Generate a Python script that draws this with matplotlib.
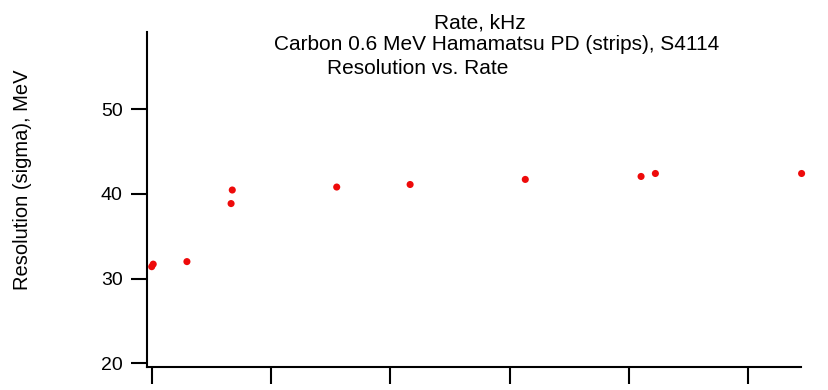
import matplotlib
matplotlib.use("Agg")
import matplotlib.pyplot as plt

plt.rcParams['font.family'] = ['Liberation Sans', 'DejaVu Sans']

rate_khz = [0.0, 0.25, 5.9, 13.3, 13.5, 31.0, 43.3, 62.6, 82.0, 84.4, 108.9]
resolution_mev = [31.4, 31.7, 32.0, 38.85, 40.45, 40.8, 41.1, 41.7, 42.05, 42.4, 42.4]
x_ticks = [0, 20, 40, 60, 80, 100]
y_ticks = [20, 30, 40, 50]

fig = plt.figure(figsize=(8.29, 3.9), dpi=100)
ax = fig.add_axes([146.7/829, 1-367/390, (801-146.7)/829, (367-32)/390])

ax.scatter(rate_khz, resolution_mev, s=26, color='#ee0a0a', edgecolors='none', zorder=3, clip_on=False)

ax.set_xlim(-0.84, 108.8)
ax.set_ylim(19.56, 59.1)
ax.set_xticks(x_ticks)
ax.set_xticklabels([])
ax.set_yticks(y_ticks)
ax.tick_params(axis='y', direction='out', length=11.3, width=1.5, labelsize=14, pad=6)
ax.tick_params(axis='x', direction='out', length=12, width=1.5)
for s in ['top', 'right']:
    ax.spines[s].set_visible(False)
for s in ['left', 'bottom']:
    ax.spines[s].set_linewidth(1.5)

fig.text(22.5/829, 1-180/390, 'Resolution (sigma), MeV', rotation=90, ha='center', va='center', fontsize=14.5)

fig.text(480/829, 1-28.3/390, 'Rate, kHz', ha='center', va='baseline', fontsize=15)
fig.text(497/829, 1-50/390, 'Carbon 0.6 MeV Hamamatsu PD (strips), S4114', ha='center', va='baseline', fontsize=15)
fig.text(418/829, 1-74/390, 'Resolution vs. Rate', ha='center', va='baseline', fontsize=15)

fig.savefig('out.png', dpi=100)
